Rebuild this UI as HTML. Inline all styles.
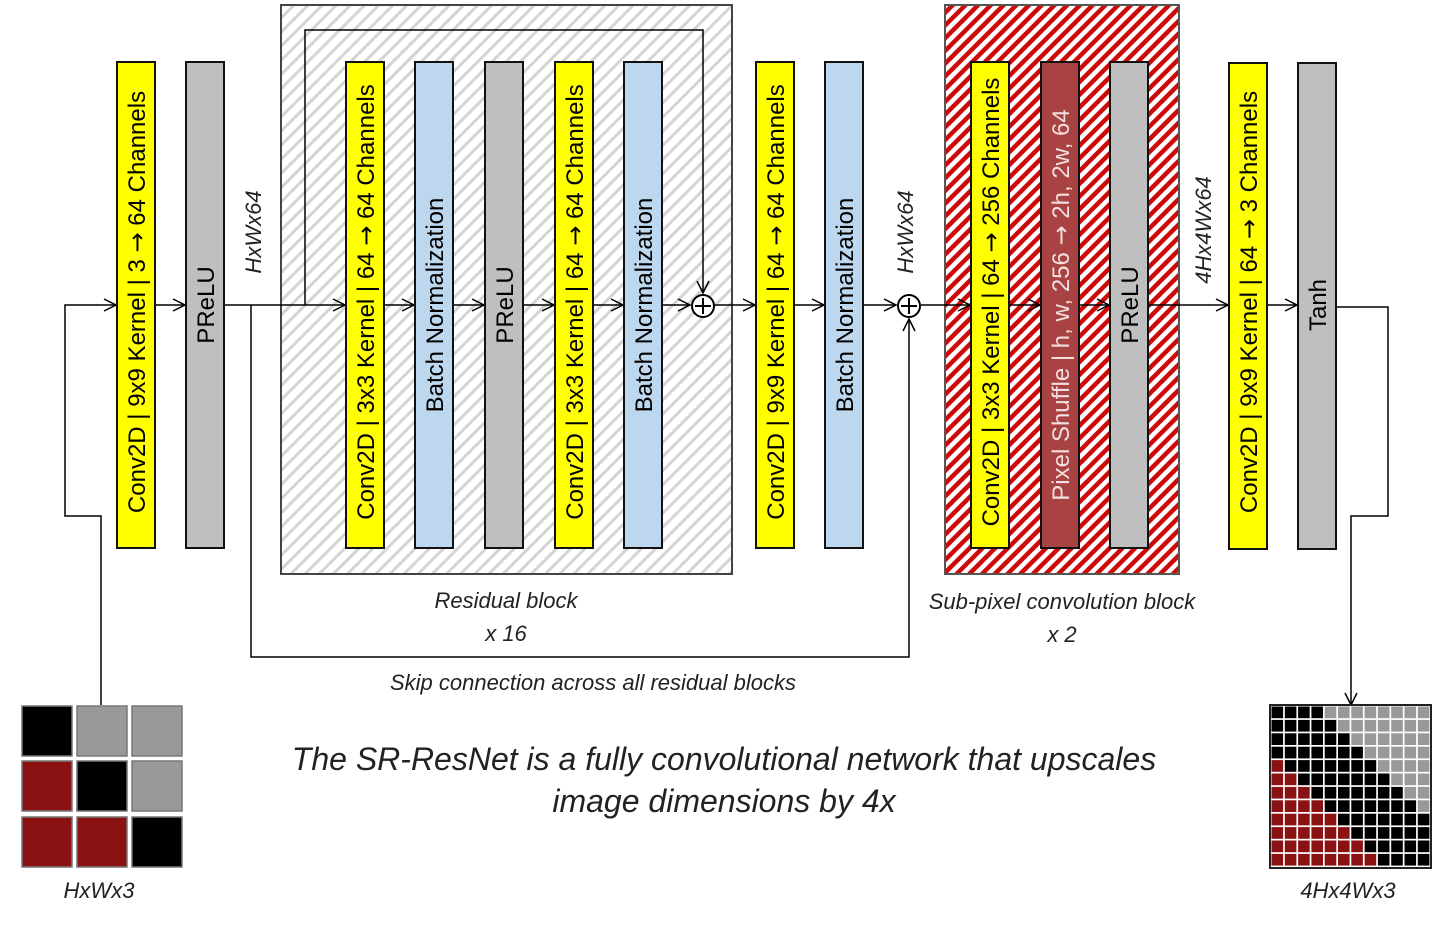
<!DOCTYPE html>
<html><head><meta charset="utf-8"><style>
html,body{margin:0;padding:0;background:#fff;width:1445px;height:925px;overflow:hidden}
svg{display:block}
.lb{font-family:"Liberation Sans",sans-serif;font-size:24px;fill:#000}
.ar{font-family:"DejaVu Sans",sans-serif}
.it{font-family:"Liberation Sans",sans-serif;font-style:italic;fill:#222}
</style></head><body>
<svg width="1445" height="925" viewBox="0 0 1445 925" xmlns="http://www.w3.org/2000/svg">
<defs>
<pattern id="gh" width="10" height="10" patternUnits="userSpaceOnUse" patternTransform="rotate(45)">
<rect width="10" height="10" fill="#fff"/><rect width="3" height="10" fill="#d4d4d4"/></pattern>
<pattern id="rh" width="9" height="9" patternUnits="userSpaceOnUse" patternTransform="rotate(45)">
<rect width="9" height="9" fill="#fff"/><rect width="4.5" height="9" fill="#cc0a0a"/></pattern>
<marker id="ar" markerWidth="14" markerHeight="14" refX="13" refY="7" orient="auto" markerUnits="userSpaceOnUse">
<path d="M1,1 L13,7 L1,13" fill="none" stroke="#000" stroke-width="1.5"/></marker>
</defs>
<rect x="281" y="5" width="451" height="569" fill="url(#gh)" stroke="#444" stroke-width="2"/>
<rect x="945" y="5" width="234" height="569" fill="url(#rh)" stroke="#555" stroke-width="2"/>
<g stroke="#000" stroke-width="1.5" fill="none">
<path d="M101,705 V516 H65 V305 H116" marker-end="url(#ar)"/>
<path d="M155,305 H185" marker-end="url(#ar)"/>
<path d="M224,305 H345" marker-end="url(#ar)"/>
<path d="M305,305 V30 H703 V293" marker-end="url(#ar)"/>
<path d="M384,305 H414" marker-end="url(#ar)"/>
<path d="M453,305 H484" marker-end="url(#ar)"/>
<path d="M523,305 H554" marker-end="url(#ar)"/>
<path d="M593,305 H623" marker-end="url(#ar)"/>
<path d="M662,305 H690" marker-end="url(#ar)"/>
<path d="M715,305 H755" marker-end="url(#ar)"/>
<path d="M794,305 H824" marker-end="url(#ar)"/>
<path d="M863,305 H896" marker-end="url(#ar)"/>
<path d="M921,305 H970" marker-end="url(#ar)"/>
<path d="M1009,305 H1040" marker-end="url(#ar)"/>
<path d="M1079,305 H1109" marker-end="url(#ar)"/>
<path d="M1148,305 H1228" marker-end="url(#ar)"/>
<path d="M1267,305 H1297" marker-end="url(#ar)"/>
<path d="M1336,307 H1388 V516 H1351 V705" marker-end="url(#ar)"/>
<path d="M251,305 V657 H909 V319" marker-end="url(#ar)"/>
<circle cx="703" cy="306" r="11" fill="#fff" stroke-width="2"/>
<path d="M703,298 V314 M695,306 H711" stroke-width="2"/>
<circle cx="909" cy="306" r="11" fill="#fff" stroke-width="2"/>
<path d="M909,298 V314 M901,306 H917" stroke-width="2"/>
</g>
<g stroke="#111" stroke-width="2">
<rect x="117" y="62" width="38" height="486" fill="#ffff00"/>
<rect x="186" y="62" width="38" height="486" fill="#bfbfbf"/>
<rect x="346" y="62" width="38" height="486" fill="#ffff00"/>
<rect x="415" y="62" width="38" height="486" fill="#bdd7ee"/>
<rect x="485" y="62" width="38" height="486" fill="#bfbfbf"/>
<rect x="555" y="62" width="38" height="486" fill="#ffff00"/>
<rect x="624" y="62" width="38" height="486" fill="#bdd7ee"/>
<rect x="756" y="62" width="38" height="486" fill="#ffff00"/>
<rect x="825" y="62" width="38" height="486" fill="#bdd7ee"/>
<rect x="971" y="62" width="38" height="486" fill="#ffff00"/>
<rect x="1041" y="62" width="38" height="486" fill="#a94343"/>
<rect x="1110" y="62" width="38" height="486" fill="#bfbfbf"/>
<rect x="1229" y="63" width="38" height="486" fill="#ffff00"/>
<rect x="1298" y="63" width="38" height="486" fill="#bfbfbf"/>
</g>
<g class="lb" text-anchor="middle">
<text transform="translate(145,302) rotate(-90)">Conv2D | 9x9 Kernel | 3 <tspan class="ar">→</tspan> 64 Channels</text>
<text transform="translate(214,305) rotate(-90)">PReLU</text>
<text transform="translate(374,302) rotate(-90)">Conv2D | 3x3 Kernel | 64 <tspan class="ar">→</tspan> 64 Channels</text>
<text transform="translate(443,305) rotate(-90)">Batch Normalization</text>
<text transform="translate(513,305) rotate(-90)">PReLU</text>
<text transform="translate(583,302) rotate(-90)">Conv2D | 3x3 Kernel | 64 <tspan class="ar">→</tspan> 64 Channels</text>
<text transform="translate(652,305) rotate(-90)">Batch Normalization</text>
<text transform="translate(784,302) rotate(-90)">Conv2D | 9x9 Kernel | 64 <tspan class="ar">→</tspan> 64 Channels</text>
<text transform="translate(853,305) rotate(-90)">Batch Normalization</text>
<text transform="translate(999,302) rotate(-90)">Conv2D | 3x3 Kernel | 64 <tspan class="ar">→</tspan> 256 Channels</text>
<text transform="translate(1069,305) rotate(-90)" style="fill:#f2dede">Pixel Shuffle | h, w, 256 <tspan class="ar">→</tspan> 2h, 2w, 64</text>
<text transform="translate(1138,305) rotate(-90)">PReLU</text>
<text transform="translate(1257,302) rotate(-90)">Conv2D | 9x9 Kernel | 64 <tspan class="ar">→</tspan> 3 Channels</text>
<text transform="translate(1326,305) rotate(-90)">Tanh</text>
</g>
<g class="it" font-size="22" text-anchor="middle">
<text transform="translate(261,232) rotate(-90)">HxWx64</text>
<text transform="translate(913,232) rotate(-90)">HxWx64</text>
<text transform="translate(1211,230) rotate(-90)">4Hx4Wx64</text>
<text x="506" y="608">Residual block</text>
<text x="506" y="641">x 16</text>
<text x="1062" y="609">Sub-pixel convolution block</text>
<text x="1062" y="642">x 2</text>
<text x="593" y="690">Skip connection across all residual blocks</text>
<text x="99" y="898">HxWx3</text>
<text x="1348" y="898">4Hx4Wx3</text>
<text x="724" y="770" font-size="32">The SR-ResNet is a fully convolutional network that upscales</text>
<text x="724" y="812" font-size="32">image dimensions by 4x</text>
</g>
<g stroke="#777" stroke-width="1.5">
<rect x="22" y="706" width="50" height="50" fill="#000"/>
<rect x="77" y="706" width="50" height="50" fill="#999"/>
<rect x="132" y="706" width="50" height="50" fill="#999"/>
<rect x="22" y="761" width="50" height="50" fill="#8b1212"/>
<rect x="77" y="761" width="50" height="50" fill="#000"/>
<rect x="132" y="761" width="50" height="50" fill="#999"/>
<rect x="22" y="817" width="50" height="50" fill="#8b1212"/>
<rect x="77" y="817" width="50" height="50" fill="#8b1212"/>
<rect x="132" y="817" width="50" height="50" fill="#000"/>
</g>
<rect x="1270" y="705" width="161" height="163" fill="#fff" stroke="#222" stroke-width="2"/>
<g id="og"></g>
</svg>
<script>
var g=document.getElementById('og'),s='';
for(var r=0;r<12;r++)for(var c=0;c<12;c++){
var col=(c<r-3)?'#8b1212':(c>=r+4?'#999':'#000');
s+='<rect x="'+(1271.5+c*13.3)+'" y="'+(706.5+r*13.4)+'" width="11.6" height="11.7" fill="'+col+'"/>';}
g.innerHTML=s;
</script>
</body></html>
